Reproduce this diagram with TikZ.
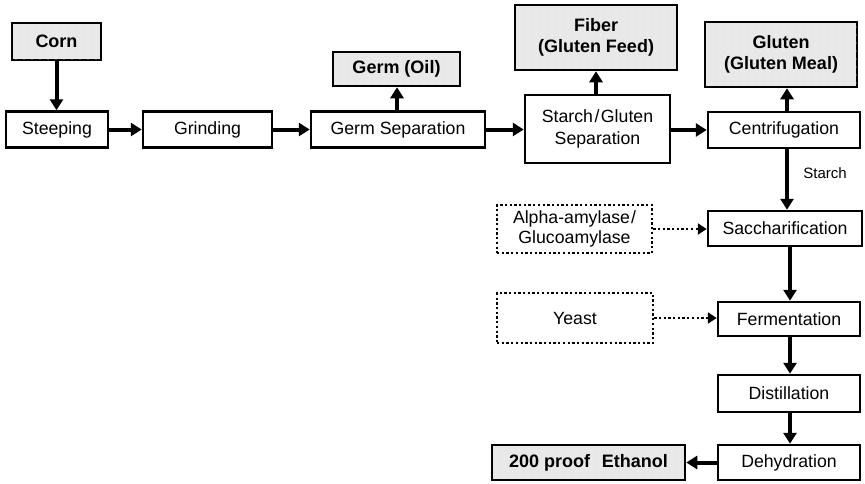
\documentclass[tikz,border=0pt]{standalone}
\usepackage{fontspec}
\setmainfont{Liberation Sans}
\usetikzlibrary{arrows.meta,patterns.meta}
\tikzdeclarepattern{
  name=wdots,
  type=uncolored,
  bottom left={(-1pt,-1pt)},
  top right={(1pt,1pt)},
  tile size={(8pt,8pt)},
  code={\pgfpathcircle{\pgfpointorigin}{0.6pt}\pgfusepath{fill}}
}
\begin{document}
\begin{tikzpicture}[x=1pt,y=-1pt,
  base/.style={draw=black,line width=2.5pt,inner sep=0pt,align=center,
    font=\fontsize{17.7}{21.5}\selectfont},
  proc/.style={base,fill=white},
  prod/.style={base,fill=gray!18,postaction={pattern=wdots,pattern color=white},
    font=\fontsize{18}{21.5}\selectfont\bfseries},
  addbox/.style={base,line width=2.5pt,dash pattern=on 2.3pt off 2.4pt},
  flow/.style={line width=4pt,-{Triangle[length=11pt,width=13pt]}},
  addflow/.style={line width=2.5pt,dash pattern=on 2.3pt off 2.4pt,
    -{Triangle[length=9pt,width=11pt]}}
]
\useasboundingbox (0,0) rectangle (865,483);
% products
\node[prod,minimum width=89,minimum height=37] (corn) at (56.5,41.5) {Corn};
\node[prod,minimum width=127,minimum height=34] (germoil) at (396.5,69) {Germ (Oil)};
\node[prod,minimum width=162,minimum height=65] (fiber) at (596,37.5) {Fiber\\(Gluten Feed)};
\node[prod,minimum width=152,minimum height=65] (gluten) at (781,54.5) {Gluten\\(Gluten Meal)};
\node[prod,minimum width=193,minimum height=35] (ethanol) at (588.5,462.5) {200 proof\hspace{0.65em}Ethanol};
% processes
\node[proc,minimum width=102,minimum height=36] (steep) at (57,129.5) {Steeping};
\node[proc,minimum width=129,minimum height=36] (grind) at (207.5,129.5) {Grinding};
\node[proc,minimum width=174,minimum height=36] (germsep) at (398,129.5) {Germ Separation};
\node[proc,minimum width=145,minimum height=68] (starch) at (597.5,129) {Starch\kern1.5pt/\kern1.5pt Gluten\\Separation};
\node[proc,minimum width=152,minimum height=36] (centri) at (784,130) {Centrifugation};
\node[proc,minimum width=154,minimum height=35] (sacch) at (785,228.5) {Saccharification};
\node[proc,minimum width=142,minimum height=34] (ferm) at (789,319) {Fermentation};
\node[proc,minimum width=142,minimum height=37] (dist) at (789,393.5) {Distillation};
\node[proc,minimum width=142,minimum height=35] (dehyd) at (789,462.5) {Dehydration};
% additives
\node[addbox,minimum width=155,minimum height=48,
  font=\fontsize{17.7}{20.5}\selectfont] (alpha) at (574.5,229) {Alpha-amylase\kern1pt/\\Glucoamylase};
\node[addbox,minimum width=156,minimum height=50] (yeast) at (575,318) {Yeast};
% label
\node[font=\fontsize{15}{17}\selectfont] (starchlbl) at (825,173) {Starch};
% helper x-coordinates
\coordinate (cx) at (787,0);
\coordinate (vx) at (790,0);
\coordinate (gx) at (397,0);
\coordinate (fx) at (596,0);
% connectors
\draw[flow] (corn.south) -- (corn.south |- steep.north);
\draw[flow] (steep.east) -- (grind.west);
\draw[flow] (grind.east) -- (germsep.west);
\draw[flow] (germsep.east) -- (germsep.east -| starch.west);
\draw[flow] (germsep.north -| gx) -- (germoil.south -| gx);
\draw[flow] (starch.east |- centri.west) -- (centri.west);
\draw[flow] (starch.north -| fx) -- (fiber.south -| fx);
\draw[flow] (centri.north -| cx) -- (gluten.south -| cx);
\draw[flow] (centri.south -| cx) -- (sacch.north -| cx);
\draw[flow] (sacch.south -| vx) -- (ferm.north -| vx);
\draw[flow] (ferm.south -| vx) -- (dist.north -| vx);
\draw[flow] (dist.south -| vx) -- (dehyd.north -| vx);
\draw[flow] (dehyd.west) -- (ethanol.east);
\draw[addflow] (alpha.east) -- (alpha.east -| sacch.west);
\draw[addflow] (yeast.east) -- (yeast.east -| ferm.west);
\end{tikzpicture}
\end{document}
